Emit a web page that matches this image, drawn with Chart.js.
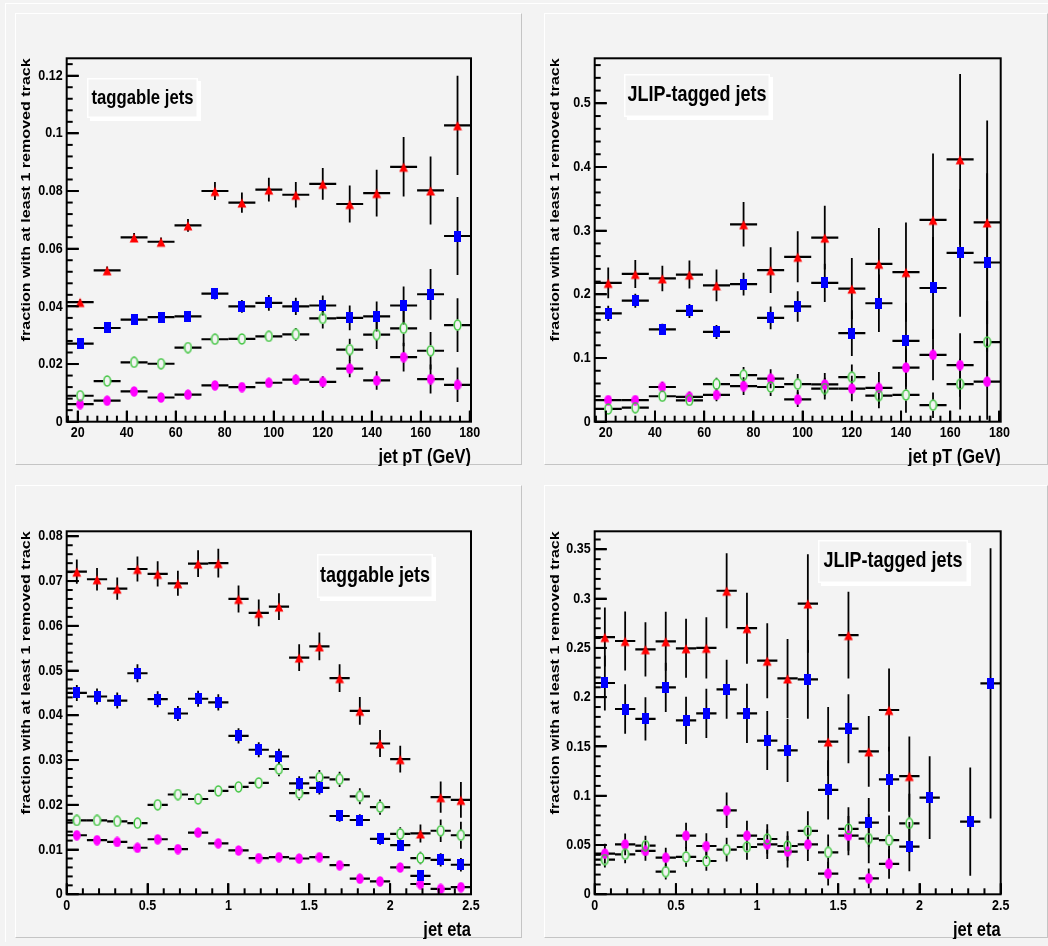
<!DOCTYPE html>
<html>
<head>
<meta charset="utf-8">
<script src="https://cdn.jsdelivr.net/npm/chart.js@4"></script>
<style>
  body { margin: 0; background: #f3f3f3; }
  #page { position: relative; width: 1048px; height: 946px; overflow: hidden; }
  #outer { position: absolute; left: 5px; top: 3px; right: 0; bottom: 4px;
           border-top: 1px solid #fff; border-left: 1px solid #fff; }
  .pad { position: absolute; background: #f3f3f3; box-sizing: border-box;
         border-top: 1px solid #fff; border-left: 1px solid #fff;
         border-right: 1px solid #c4c4c4; border-bottom: 1px solid #c4c4c4; }
  .pad canvas { position: absolute; left: 0; top: 0; }
</style>
</head>
<body>
<div id="page"><div id="outer"></div></div>
<script>
// bin centres
const PT_BINS = [21, 32, 43, 54, 65, 76, 87, 98, 109, 120, 131, 142, 153, 164, 175];
const ETA_BINS = [0.0625, 0.1875, 0.3125, 0.4375, 0.5625, 0.6875, 0.8125, 0.9375, 1.0625, 1.1875,
                  1.3125, 1.4375, 1.5625, 1.6875, 1.8125, 1.9375, 2.0625, 2.1875, 2.3125, 2.4375];

// tick labels
const PT_X_TICKS = [20, 40, 60, 80, 100, 120, 140, 160, 180];
const ETA_X_TICKS = [0, 0.5, 1, 1.5, 2, 2.5];
const P1_Y_TICKS = [0, 0.02, 0.04, 0.06, 0.08, 0.1, 0.12];
const P2_Y_TICKS = [0, 0.1, 0.2, 0.3, 0.4, 0.5];
const P3_Y_TICKS = [0, 0.01, 0.02, 0.03, 0.04, 0.05, 0.06, 0.07, 0.08];
const P4_Y_TICKS = [0, 0.05, 0.1, 0.15, 0.2, 0.25, 0.3, 0.35];

// taggable jets vs pT
const P1_RED = [0.0415, 0.0525, 0.0639, 0.0624, 0.0681, 0.0800, 0.0760, 0.0805, 0.0787, 0.0825, 0.0755, 0.0793, 0.0884, 0.0802, 0.1028];
const P1_RED_ERR = [0.0010, 0.0013, 0.0015, 0.0015, 0.0022, 0.0031, 0.0035, 0.0041, 0.0044, 0.0055, 0.0064, 0.0081, 0.0103, 0.0118, 0.0172];
const P1_BLUE = [0.0271, 0.0325, 0.0354, 0.0363, 0.0365, 0.0444, 0.0400, 0.0412, 0.0400, 0.0403, 0.0360, 0.0365, 0.0403, 0.0442, 0.0644];
const P1_BLUE_ERR = [0.0008, 0.0009, 0.0010, 0.0010, 0.0012, 0.0020, 0.0022, 0.0027, 0.0030, 0.0035, 0.0043, 0.0052, 0.0066, 0.0088, 0.0135];
const P1_GREEN = [0.0090, 0.0141, 0.0206, 0.0201, 0.0257, 0.0286, 0.0287, 0.0296, 0.0303, 0.0358, 0.0250, 0.0302, 0.0324, 0.0246, 0.0335];
const P1_GREEN_ERR = [0.0006, 0.0007, 0.0008, 0.0008, 0.0010, 0.0012, 0.0015, 0.0018, 0.0022, 0.0035, 0.0038, 0.0050, 0.0062, 0.0065, 0.0093];
const P1_MAG = [0.0061, 0.0073, 0.0105, 0.0084, 0.0094, 0.0126, 0.0120, 0.0135, 0.0146, 0.0138, 0.0184, 0.0143, 0.0224, 0.0148, 0.0128];
const P1_MAG_ERR = [0.0005, 0.0006, 0.0007, 0.0008, 0.0009, 0.0010, 0.0012, 0.0014, 0.0017, 0.0020, 0.0030, 0.0032, 0.0050, 0.0050, 0.0060];

// JLIP-tagged jets vs pT
const P2_RED = [0.218, 0.232, 0.225, 0.231, 0.214, 0.310, 0.238, 0.259, 0.289, 0.209, 0.248, 0.235, 0.317, 0.412, 0.313];
const P2_RED_ERR = [0.024, 0.022, 0.020, 0.022, 0.025, 0.035, 0.036, 0.040, 0.050, 0.048, 0.056, 0.078, 0.104, 0.134, 0.160];
const P2_BLUE = [0.170, 0.190, 0.145, 0.174, 0.141, 0.216, 0.163, 0.181, 0.218, 0.139, 0.186, 0.127, 0.210, 0.265, 0.250];
const P2_BLUE_ERR = [0.012, 0.011, 0.009, 0.011, 0.011, 0.018, 0.018, 0.024, 0.030, 0.036, 0.045, 0.060, 0.080, 0.100, 0.140];
const P2_GREEN = [0.020, 0.022, 0.040, 0.0335, 0.059, 0.073, 0.0545, 0.059, 0.052, 0.070, 0.041, 0.042, 0.026, 0.059, 0.125];
const P2_GREEN_ERR = [0.005, 0.006, 0.007, 0.007, 0.010, 0.013, 0.014, 0.016, 0.017, 0.020, 0.020, 0.028, 0.020, 0.040, 0.065];
const P2_MAG = [0.034, 0.034, 0.0545, 0.039, 0.042, 0.056, 0.0675, 0.035, 0.0586, 0.052, 0.053, 0.085, 0.105, 0.089, 0.063];
const P2_MAG_ERR = [0.006, 0.006, 0.008, 0.008, 0.010, 0.014, 0.015, 0.012, 0.018, 0.020, 0.025, 0.030, 0.040, 0.050, 0.060];

// taggable jets vs eta
const P3_RED = [0.0721, 0.0704, 0.0683, 0.0727, 0.0716, 0.0695, 0.0739, 0.0740, 0.0660, 0.0629,
                0.0643, 0.0529, 0.0554, 0.0483, 0.0410, 0.0337, 0.0302, 0.0136, 0.0217, 0.0211];
const P3_RED_ERR = [0.0027, 0.0025, 0.0025, 0.0028, 0.0028, 0.0028, 0.0030, 0.0032, 0.0030, 0.0030,
                    0.0030, 0.0030, 0.0031, 0.0031, 0.0031, 0.0030, 0.0030, 0.0020, 0.0035, 0.0040];
const P3_BLUE = [0.0450, 0.0442, 0.0433, 0.0494, 0.0436, 0.0404, 0.0437, 0.0429, 0.0354, 0.0323,
                 0.0308, 0.0248, 0.0238, 0.0175, 0.0166, 0.0124, 0.0110, 0.0041, 0.0077, 0.0066];
const P3_BLUE_ERR = [0.0018, 0.0018, 0.0018, 0.0020, 0.0018, 0.0017, 0.0018, 0.0018, 0.0017, 0.0017,
                     0.0017, 0.0016, 0.0015, 0.0013, 0.0013, 0.0013, 0.0012, 0.0010, 0.0015, 0.0015];
const P3_GREEN = [0.0165, 0.0165, 0.0163, 0.0159, 0.0200, 0.0223, 0.0213, 0.0231, 0.0240, 0.0249,
                  0.0280, 0.0226, 0.0261, 0.0257, 0.0219, 0.0195, 0.0135, 0.0081, 0.0142, 0.0132];
const P3_GREEN_ERR = [0.0008, 0.0008, 0.0008, 0.0008, 0.0009, 0.0010, 0.0010, 0.0012, 0.0013, 0.0013,
                      0.0016, 0.0016, 0.0017, 0.0017, 0.0018, 0.0017, 0.0015, 0.0014, 0.0025, 0.0030];
const P3_MAG = [0.0132, 0.0121, 0.0117, 0.0104, 0.0123, 0.0101, 0.0138, 0.0114, 0.0098, 0.0081,
                0.0083, 0.0080, 0.0083, 0.0065, 0.0035, 0.0029, 0.0060, 0.0023, 0.0012, 0.0016];
const P3_MAG_ERR = [0.0008, 0.0007, 0.0007, 0.0007, 0.0008, 0.0007, 0.0008, 0.0008, 0.0007, 0.0007,
                    0.0007, 0.0007, 0.0007, 0.0006, 0.0005, 0.0005, 0.0008, 0.0007, 0.0006, 0.0007];

// JLIP-tagged jets vs eta
const P4_RED = [0.261, 0.257, 0.2486, 0.2567, 0.2496, 0.250, 0.308, 0.270, 0.237, 0.219,
                0.295, 0.155, 0.263, 0.145, 0.187, 0.120, null, null, null, null];
const P4_RED_ERR = [0.030, 0.030, 0.0275, 0.030, 0.030, 0.031, 0.038, 0.036, 0.038, 0.040,
                    0.050, 0.035, 0.044, 0.036, 0.042, 0.040, null, null, null, null];
const P4_BLUE = [0.2144, 0.188, 0.178, 0.210, 0.1765, 0.1836, 0.208, 0.1836, 0.156, 0.146,
                 0.218, 0.106, 0.168, 0.0727, 0.1167, 0.0484, 0.098, null, 0.0737, 0.214];
const P4_BLUE_ERR = [0.028, 0.025, 0.022, 0.025, 0.024, 0.025, 0.030, 0.030, 0.030, 0.032,
                     0.040, 0.030, 0.035, 0.025, 0.033, 0.025, 0.042, null, 0.055, 0.137];
const P4_GREEN = [0.0352, 0.0406, 0.0494, 0.0230, 0.0379, 0.0338, 0.0453, 0.0480, 0.0561, 0.0490,
                  0.0643, 0.0426, 0.0663, 0.0565, 0.0550, 0.0720, null, null, null, null];
const P4_GREEN_ERR = [0.008, 0.009, 0.010, 0.008, 0.010, 0.010, 0.012, 0.013, 0.015, 0.015,
                      0.020, 0.018, 0.022, 0.025, 0.025, 0.030, null, null, null, null];
const P4_MAG = [0.0413, 0.0507, 0.0440, 0.0372, 0.0595, 0.0490, 0.0852, 0.0595, 0.0507, 0.0433,
                0.0507, 0.0210, 0.0595, 0.0162, 0.0308, null, null, null, null, null];
const P4_MAG_ERR = [0.010, 0.011, 0.010, 0.010, 0.013, 0.013, 0.018, 0.015, 0.015, 0.016,
                    0.017, 0.012, 0.020, 0.010, 0.015, null, null, null, null, null];

const FONT = "'Liberation Sans', Arial, sans-serif";
const TEXT_STRETCH = 1.2;   // the original picture is stretched vertically

// marker bitmaps, a bit taller than wide like in the original
function marker(kind, color) {
    const c = document.createElement('canvas');
    const g = c.getContext('2d');
    if (kind === 'triangle') {
        c.width = 10; c.height = 13;
        g.fillStyle = color;
        g.beginPath(); g.moveTo(5, 2.2); g.lineTo(0.6, 11.6); g.lineTo(9.4, 11.6); g.closePath(); g.fill();
    } else if (kind === 'square') {
        c.width = 7; c.height = 11;
        g.fillStyle = color;
        g.fillRect(0, 0, 7, 11);
    } else if (kind === 'dot') {
        c.width = 8; c.height = 11;
        g.fillStyle = color;
        g.beginPath(); g.ellipse(4, 5.5, 3.8, 5.3, 0, 0, Math.PI * 2); g.fill();
    } else {
        c.width = 9; c.height = 12;
        g.strokeStyle = color; g.lineWidth = 1.5;
        g.beginPath(); g.ellipse(4.5, 6, 3.3, 4.9, 0, 0, Math.PI * 2); g.stroke();
    }
    return c;
}

const RED_STYLE = { pointStyle: marker('triangle', '#ff0000'), gapX: 0, gapY: 0 };
const BLUE_STYLE = { pointStyle: marker('square', '#0000ff'), gapX: 0, gapY: 0 };
const GREEN_STYLE = { pointStyle: marker('ring', '#3cc43c'), gapX: 4, gapY: 5.5 };
const MAG_STYLE = { pointStyle: marker('dot', '#ff00ff'), gapX: 0, gapY: 0 };

function series(bins, vals, errs, style) {
    const data = bins.map((x, i) => ({ x: x, y: vals[i], e: errs[i] })).filter(d => d.y !== null);
    return Object.assign({ data: data, clip: false, pointRadius: 5 }, style);
}

const PANELS = [
    {
        left: 15, top: 13, width: 507, height: 452, area: { l: 50.7, t: 44.3, r: 52, b: 44.3 },
        bins: PT_BINS, half: 5.5, xMin: 15.5, xMax: 180.5, xTicks: PT_X_TICKS, xMinor: 4, xFirst: 16,
        yMax: 0.12603, yTicks: P1_Y_TICKS, yMinor: 0.004, xTitle: 'jet pT (GeV)',
        label: 'taggable jets', labelSize: 16.7, box: [71, 64, 111, 40],
        sets: [[P1_RED, P1_RED_ERR, RED_STYLE], [P1_BLUE, P1_BLUE_ERR, BLUE_STYLE],
               [P1_GREEN, P1_GREEN_ERR, GREEN_STYLE], [P1_MAG, P1_MAG_ERR, MAG_STYLE]]
    },
    {
        left: 544, top: 13, width: 504, height: 452, area: { l: 49.7, t: 44.3, r: 48.3, b: 44.3 },
        bins: PT_BINS, half: 5.5, xMin: 15.5, xMax: 180.5, xTicks: PT_X_TICKS, xMinor: 4, xFirst: 16,
        yMax: 0.5707, yTicks: P2_Y_TICKS, yMinor: 0.02, xTitle: 'jet pT (GeV)',
        label: 'JLIP-tagged jets', labelSize: 18, box: [79, 60, 146, 43],
        sets: [[P2_RED, P2_RED_ERR, RED_STYLE], [P2_BLUE, P2_BLUE_ERR, BLUE_STYLE],
               [P2_GREEN, P2_GREEN_ERR, GREEN_STYLE], [P2_MAG, P2_MAG_ERR, MAG_STYLE]]
    },
    {
        left: 15, top: 485, width: 507, height: 453, area: { l: 50.7, t: 45.3, r: 52, b: 44.7 },
        bins: ETA_BINS, half: 0.0625, xMin: 0, xMax: 2.5, xTicks: ETA_X_TICKS, xMinor: 0.1, xFirst: 0,
        yMax: 0.08112, yTicks: P3_Y_TICKS, yMinor: 0.002, xTitle: 'jet eta',
        label: 'taggable jets', labelSize: 18, box: [301, 68, 116, 44],
        sets: [[P3_RED, P3_RED_ERR, RED_STYLE], [P3_BLUE, P3_BLUE_ERR, BLUE_STYLE],
               [P3_GREEN, P3_GREEN_ERR, GREEN_STYLE], [P3_MAG, P3_MAG_ERR, MAG_STYLE]]
    },
    {
        left: 544, top: 485, width: 504, height: 453, area: { l: 49.7, t: 45.3, r: 48.3, b: 44.7 },
        bins: ETA_BINS, half: 0.0625, xMin: 0, xMax: 2.5, xTicks: ETA_X_TICKS, xMinor: 0.1, xFirst: 0,
        yMax: 0.3683, yTicks: P4_Y_TICKS, yMinor: 0.01, xTitle: 'jet eta',
        label: 'JLIP-tagged jets', labelSize: 18, box: [273, 54, 150, 43],
        sets: [[P4_RED, P4_RED_ERR, RED_STYLE], [P4_BLUE, P4_BLUE_ERR, BLUE_STYLE],
               [P4_GREEN, P4_GREEN_ERR, GREEN_STYLE], [P4_MAG, P4_MAG_ERR, MAG_STYLE]]
    }
];

function seg(ctx, x0, y0, x1, y1) {
    if (Math.abs(x1 - x0) + Math.abs(y1 - y0) < 0.5) return;
    ctx.moveTo(x0, y0);
    ctx.lineTo(x1, y1);
}

// all text of a chart is stretched vertically around its anchor point
const stretchText = {
    id: 'stretchText',
    beforeInit(chart) {
        const ctx = chart.ctx;
        const orig = ctx.fillText.bind(ctx);
        ctx.fillText = function (t, x, y, w) {
            const m = ctx.getTransform();
            const q = m.transformPoint(new DOMPoint(x, y));
            const s = new DOMMatrix().translate(q.x, q.y).scale(1, TEXT_STRETCH).translate(-q.x, -q.y).multiply(m);
            ctx.save();
            ctx.setTransform(s);
            if (w === undefined) orig(t, x, y); else orig(t, x, y, w);
            ctx.restore();
        };
    }
};

function makeChart(panel) {
    const pad = document.createElement('div');
    pad.className = 'pad';
    pad.style.left = panel.left + 'px';
    pad.style.top = panel.top + 'px';
    pad.style.width = panel.width + 'px';
    pad.style.height = panel.height + 'px';
    const canvas = document.createElement('canvas');
    canvas.width = panel.width;
    canvas.height = panel.height;
    pad.appendChild(canvas);
    document.getElementById('page').appendChild(pad);

    // ROOT style error bars: full bin width horizontally, +-err vertically
    const errorBars = {
        id: 'errorBars',
        beforeDatasetsDraw(chart) {
            const ctx = chart.ctx, xs = chart.scales.x, ys = chart.scales.y, a = chart.chartArea;
            ctx.save();
            ctx.beginPath();
            ctx.rect(a.left, a.top, a.right - a.left, a.bottom - a.top);
            ctx.clip();
            ctx.strokeStyle = '#000';
            chart.data.datasets.forEach(ds => {
                ds.data.forEach(pt => {
                    const px = xs.getPixelForValue(pt.x), py = ys.getPixelForValue(pt.y);
                    const x0 = xs.getPixelForValue(pt.x - panel.half), x1 = xs.getPixelForValue(pt.x + panel.half);
                    const yHi = ys.getPixelForValue(pt.y + pt.e), yLo = ys.getPixelForValue(pt.y - pt.e);
                    ctx.lineWidth = 2.2;
                    ctx.beginPath();
                    seg(ctx, x0, py, px - ds.gapX, py);
                    seg(ctx, px + ds.gapX, py, x1, py);
                    ctx.stroke();
                    ctx.lineWidth = 1.8;
                    ctx.beginPath();
                    if (yHi < py - ds.gapY) seg(ctx, px, yHi, px, py - ds.gapY);
                    if (yLo > py + ds.gapY) seg(ctx, px, py + ds.gapY, px, yLo);
                    ctx.stroke();
                });
            });
            ctx.restore();
        }
    };

    // frame with inward minor ticks on the left and bottom axes
    const frame = {
        id: 'rootFrame',
        afterDraw(chart) {
            const ctx = chart.ctx, xs = chart.scales.x, ys = chart.scales.y, a = chart.chartArea;
            ctx.save();
            ctx.strokeStyle = '#000000';
            ctx.lineWidth = 2;
            ctx.strokeRect(a.left, a.top, a.right - a.left, a.bottom - a.top);
            ctx.fillStyle = '#000000';
            for (let i = 0; ; i++) {
                const v = panel.xFirst + i * panel.xMinor;
                if (v > panel.xMax) break;
                const major = panel.xTicks.some(t => Math.abs(t - v) < panel.xMinor / 100);
                const len = major ? 11 : 6;
                ctx.fillRect(xs.getPixelForValue(v) - 1, a.bottom - len, 2, len);
            }
            for (let i = 0; ; i++) {
                const v = i * panel.yMinor;
                if (v > panel.yMax) break;
                const major = panel.yTicks.some(t => Math.abs(t - v) < panel.yMinor / 100);
                const len = major ? 12 : 6;
                ctx.fillRect(a.left, ys.getPixelForValue(v) - 1, len, 2);
            }
            ctx.restore();
        }
    };

    // text box like a ROOT TPaveText with shadow
    const labelBox = {
        id: 'labelBox',
        afterDraw(chart) {
            const ctx = chart.ctx, b = panel.box;
            ctx.save();
            ctx.fillStyle = '#ffffff';
            ctx.fillRect(b[0] + 3, b[1] + 3, b[2], b[3]);
            ctx.fillStyle = '#f3f3f3';
            ctx.fillRect(b[0], b[1], b[2], b[3]);
            ctx.strokeStyle = '#ffffff';
            ctx.lineWidth = 1.5;
            ctx.strokeRect(b[0] + 0.75, b[1] + 0.75, b[2] - 1.5, b[3] - 1.5);
            ctx.fillStyle = '#000';
            ctx.font = 'bold ' + panel.labelSize + 'px ' + FONT;
            ctx.textAlign = 'center';
            ctx.textBaseline = 'middle';
            ctx.fillText(panel.label, b[0] + b[2] / 2, b[1] + b[3] / 2);
            ctx.restore();
        }
    };

    const tickFont = { family: FONT, size: 12.5, weight: 'bold' };

    return new Chart(canvas, {
        type: 'scatter',
        data: { datasets: panel.sets.map(s => series(panel.bins, s[0], s[1], s[2])) },
        options: {
            responsive: false,
            animation: false,
            devicePixelRatio: 1,
            layout: { padding: { top: panel.area.t, right: panel.area.r, left: 0, bottom: 0 } },
            plugins: { legend: { display: false }, tooltip: { enabled: false } },
            scales: {
                x: {
                    type: 'linear', bounds: 'data', min: panel.xMin, max: panel.xMax,
                    // major ticks point into the frame (negative length)
                    grid: { display: true, drawOnChartArea: false, drawTicks: true, tickLength: -11,
                            tickColor: '#000', tickWidth: 2, color: '#000', lineWidth: 2 },
                    border: { display: false },
                    afterBuildTicks: s => { s.ticks = panel.xTicks.map(v => ({ value: v })); },
                    afterFit: s => { s.height = panel.area.b; },
                    ticks: { padding: 15, color: '#000', font: tickFont, maxRotation: 0, autoSkip: false,
                             callback: v => String(v) },
                    title: { display: true, text: panel.xTitle, align: 'end', color: '#000', padding: 0,
                             font: { family: FONT, size: 16.5, weight: 'bold', lineHeight: 1 } }
                },
                y: {
                    type: 'linear', bounds: 'data', min: 0, max: panel.yMax,
                    grid: { display: true, drawOnChartArea: false, drawTicks: true, tickLength: -12,
                            tickColor: '#000', tickWidth: 2, color: '#000', lineWidth: 2 },
                    border: { display: false },
                    afterBuildTicks: s => { s.ticks = panel.yTicks.map(v => ({ value: v })); },
                    afterFit: s => { s.width = panel.area.l; },
                    ticks: { padding: 16, color: '#000', font: tickFont, autoSkip: false,
                             callback: v => String(v) },
                    title: { display: true, text: 'fraction with at least 1 removed track', align: 'end',
                             color: '#000', padding: { top: 2, bottom: 0 },
                             font: { family: FONT, size: 13.4, weight: 'bold', lineHeight: 1.2 } }
                }
            }
        },
        plugins: [stretchText, errorBars, frame, labelBox]
    });
}

PANELS.forEach(makeChart);
</script>
</body>
</html>
